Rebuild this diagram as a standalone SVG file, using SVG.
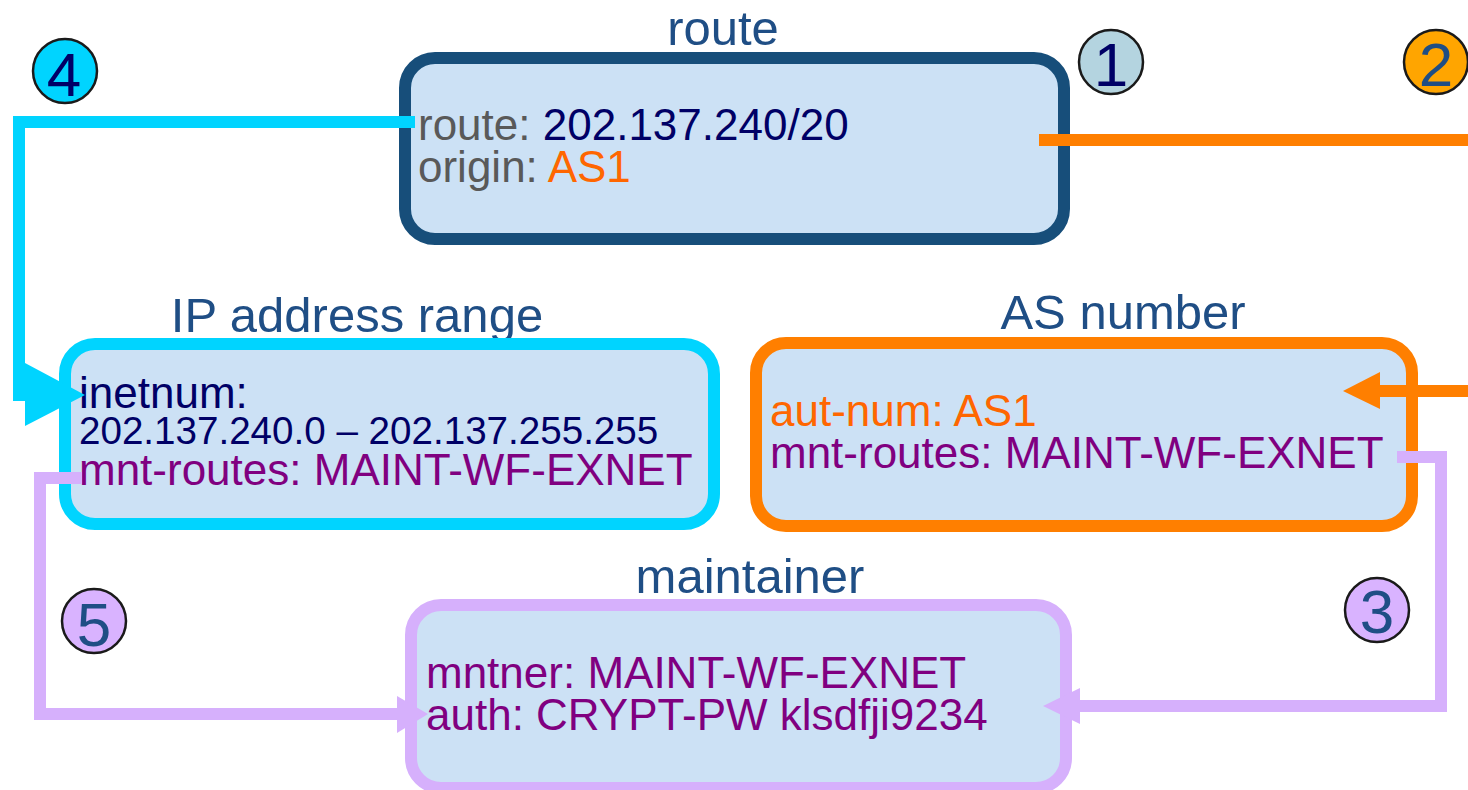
<svg xmlns="http://www.w3.org/2000/svg" width="1468" height="790" viewBox="0 0 1468 790">
<style>
.box{fill:#cce1f5;stroke-width:12}
.title{font-family:"Liberation Sans",Arial,sans-serif;font-size:49px;fill:#1f4e85;text-anchor:middle}
.body{font-family:"Liberation Sans",Arial,sans-serif;font-size:44px}
.small{font-size:38.6px}
.gray{fill:#595959}
.navy{fill:#000066}
.orange{fill:#ff6600}
.purple{fill:#800080}
.badge{stroke:#1a1a1a;stroke-width:2.5}
.num{font-family:"Liberation Sans",Arial,sans-serif;font-size:62px;text-anchor:middle}
.conn{fill:none;stroke-width:12;stroke-linejoin:miter;stroke-linecap:butt}
</style>
<rect width="1468" height="790" fill="#ffffff"/>

<g id="node-route">
<text class="title" x="723" y="45">route</text>
<rect class="box" x="405" y="58" width="659" height="181" rx="30" stroke="#174e7a"/>
<text class="body" x="418" y="140"><tspan class="gray">route: </tspan><tspan class="navy">202.137.240/20</tspan></text>
<text class="body" x="418" y="182"><tspan class="gray">origin: </tspan><tspan class="orange">AS1</tspan></text>
</g>

<g id="node-ip">
<text class="title" x="357" y="332">IP address range</text>
<rect class="box" x="65" y="344" width="649" height="180" rx="30" stroke="#00d4ff"/>
<text class="body navy" x="79" y="408">inetnum:</text>
<text class="body small navy" x="79" y="444">202.137.240.0 – 202.137.255.255</text>
<text class="body purple" x="79" y="485">mnt-routes: MAINT-WF-EXNET</text>
</g>

<g id="node-as">
<text class="title" x="1123" y="329">AS number</text>
<rect class="box" x="756" y="343" width="656" height="183" rx="30" stroke="#ff7f00"/>
<text class="body orange" x="770" y="426">aut-num: AS1</text>
<text class="body purple" x="770" y="468">mnt-routes: MAINT-WF-EXNET</text>
</g>

<g id="node-maintainer">
<text class="title" x="750" y="593">maintainer</text>
<rect class="box" x="411" y="605" width="655" height="183" rx="30" stroke="#d6b0fc"/>
<text class="body purple" x="426" y="688">mntner: MAINT-WF-EXNET</text>
<text class="body purple" x="426" y="730">auth: CRYPT-PW klsdfji9234</text>
</g>

<g id="connectors">
<path class="conn" stroke="#00d4ff" d="M415 122 H19 V395 H30"/>
<polygon fill="#00d4ff" points="25,363 85,395 25,426"/>
<path class="conn" stroke="#ff7f00" d="M1039 140 H1476 V391 H1378"/>
<polygon fill="#ff7f00" points="1380,372 1343,391 1380,409"/>
<path class="conn" stroke="#d6b0fc" d="M1397 457 H1441 V706 H1078"/>
<polygon fill="#d6b0fc" points="1080,688 1043,706 1080,724"/>
<path class="conn" stroke="#d6b0fc" d="M82 478 H40 V714 H400"/>
<polygon fill="#d6b0fc" points="397,696 428,714 397,733"/>
</g>

<g id="badge-1">
<circle class="badge" cx="1111" cy="62" r="32" fill="#b4d4e0"/>
<text class="num" x="1111" y="86" fill="#000066">1</text>
</g>
<g id="badge-2">
<circle class="badge" cx="1436" cy="62" r="32" fill="#ffa500"/>
<text class="num" x="1436" y="86" fill="#1f4e85">2</text>
</g>
<g id="badge-3">
<circle class="badge" cx="1377" cy="610" r="32" fill="#d9b3ff"/>
<text class="num" x="1377" y="633" fill="#1f4e85">3</text>
</g>
<g id="badge-4">
<circle class="badge" cx="65" cy="71" r="32" fill="#00d4ff"/>
<text class="num" x="64" y="96" fill="#000066">4</text>
</g>
<g id="badge-5">
<circle class="badge" cx="94" cy="621" r="32" fill="#d9b3ff"/>
<text class="num" x="94" y="646" fill="#1f4e85">5</text>
</g>
</svg>
